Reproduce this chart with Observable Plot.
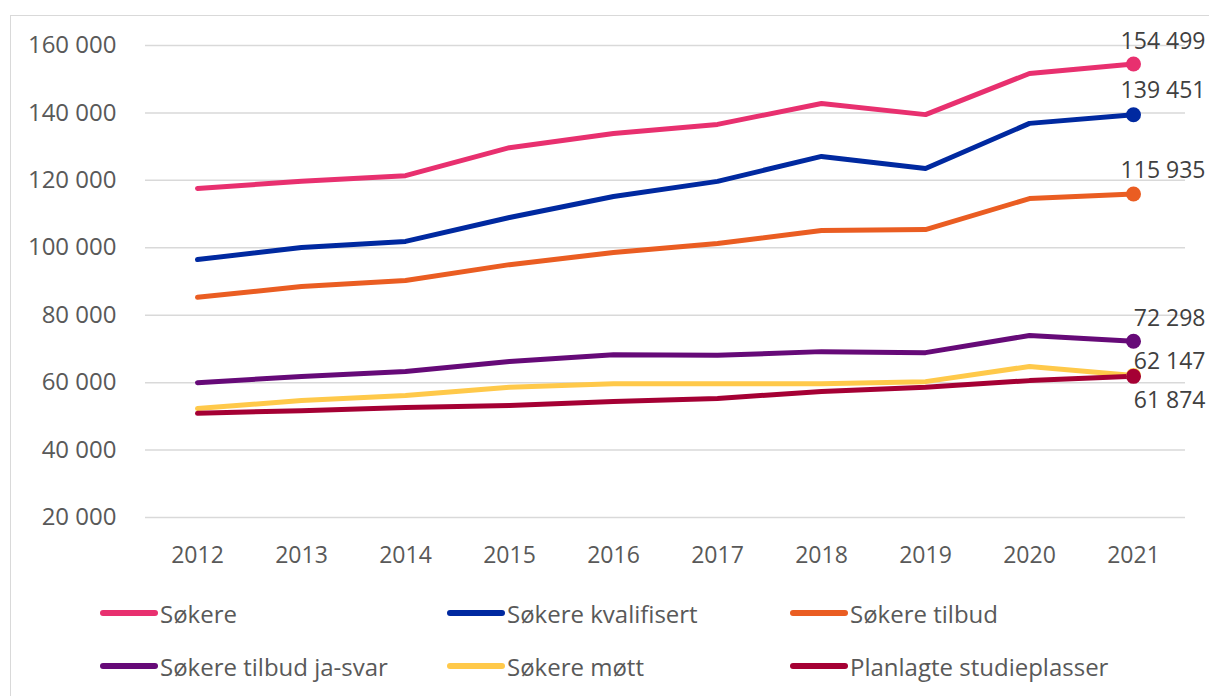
<!DOCTYPE html>
<html>
<head>
<meta charset="utf-8">
<script src="https://cdn.jsdelivr.net/npm/d3@7"></script>
<script src="https://cdn.jsdelivr.net/npm/@observablehq/plot@0.6"></script>
<style>
  html, body { margin: 0; padding: 0; background: #fff; width: 1209px; height: 696px; overflow: hidden; position: relative; font-family: "Open Sans", sans-serif; }
  #frame { position: absolute; left: 10px; top: 15px; width: 1300px; height: 800px; border: 1.5px solid #d9d9d9; box-sizing: border-box; }
  #chart { position: absolute; left: 0; top: 0; }
  #legend { position: absolute; left: 100px; top: 597px; display: grid; grid-template-columns: 347px 343px auto; row-gap: 21px; }
  .item { display: flex; align-items: center; height: 32px; font-size: 24px; color: #595959; }
  .sw { display: inline-block; width: 58px; height: 6px; border-radius: 3px; margin-right: 2px; }
</style>
</head>
<body>
<div id="frame"></div>
<div id="chart"></div>
<div id="legend"></div>
<script>
const years = [2012, 2013, 2014, 2015, 2016, 2017, 2018, 2019, 2020, 2021];
const seriesNames = ["Søkere", "Søkere kvalifisert", "Søkere tilbud", "Søkere tilbud ja-svar", "Søkere møtt", "Planlagte studieplasser"];
const seriesColors = ["#e8306f", "#0029a0", "#ea5d22", "#660a78", "#ffc94a", "#a50034"];
const sokere              = [117600, 119700, 121400, 129700, 133900, 136600, 142800, 139500, 151700, 154499];
const sokereKvalifisert   = [96500, 100100, 101900, 109000, 115200, 119700, 127100, 123500, 136900, 139451];
const sokereTilbud        = [85300, 88500, 90300, 95000, 98600, 101300, 105100, 105400, 114600, 115935];
const sokereTilbudJaSvar  = [60000, 61800, 63300, 66300, 68300, 68100, 69200, 68900, 74000, 72298];
const sokereMott          = [52300, 54700, 56200, 58600, 59700, 59700, 59700, 60300, 64800, 62147];
const planlagte           = [50900, 51700, 52600, 53200, 54400, 55300, 57400, 58600, 60600, 61874];
const yTicks = [20000, 40000, 60000, 80000, 100000, 120000, 140000, 160000];

const allValues = [sokere, sokereKvalifisert, sokereTilbud, sokereTilbudJaSvar, sokereMott, planlagte];
const labelDy = [-22, -24, -23, -23, -14, 24];

const rows = [];
seriesNames.forEach((s, i) => years.forEach((y, j) => rows.push({series: s, year: y, value: allValues[i][j], idx: i})));
const last = rows.filter(d => d.year === years[years.length - 1]);

const fmt = v => d3.format(",")(v).replace(/,/g, " ");

const labelMarks = last.map(d => Plot.text([d], {
  x: "year", y: "value", text: d => fmt(d.value),
  textAnchor: "end", dx: 72, dy: labelDy[d.idx],
  fontSize: 23, fill: "#404040"
}));

const chart = Plot.plot({
  width: 1209,
  height: 590,
  marginLeft: 145,
  marginRight: 24,
  marginTop: 45,
  marginBottom: 73,
  style: {fontFamily: "'Open Sans', sans-serif", color: "#595959", background: "transparent", overflow: "visible"},
  x: {domain: [2011.5, 2021.5], label: null},
  y: {domain: [20000, 160000], label: null},
  color: {domain: seriesNames, range: seriesColors},
  marks: [
    Plot.gridY(yTicks, {stroke: "#d9d9d9", strokeOpacity: 1, strokeWidth: 1.5}),
    Plot.axisY(yTicks, {tickSize: 0, tickPadding: 29, tickFormat: fmt, fontSize: 24, fill: "#595959", label: null}),
    Plot.axisX(years, {tickSize: 0, tickPadding: 29, tickFormat: d => String(d), fontSize: 23, fill: "#595959", label: null}),
    Plot.line(rows, {x: "year", y: "value", z: "series", stroke: "series", strokeWidth: 5, strokeLinecap: "round", strokeLinejoin: "round"}),
    Plot.dot(last, {x: "year", y: "value", fill: "series", r: 7.5}),
    ...labelMarks
  ]
});
document.getElementById("chart").appendChild(chart);

const legend = document.getElementById("legend");
seriesNames.forEach((s, i) => {
  const item = document.createElement("div");
  item.className = "item";
  const sw = document.createElement("span");
  sw.className = "sw";
  sw.style.background = seriesColors[i];
  item.appendChild(sw);
  item.appendChild(document.createTextNode(s));
  legend.appendChild(item);
});
</script>
</body>
</html>
